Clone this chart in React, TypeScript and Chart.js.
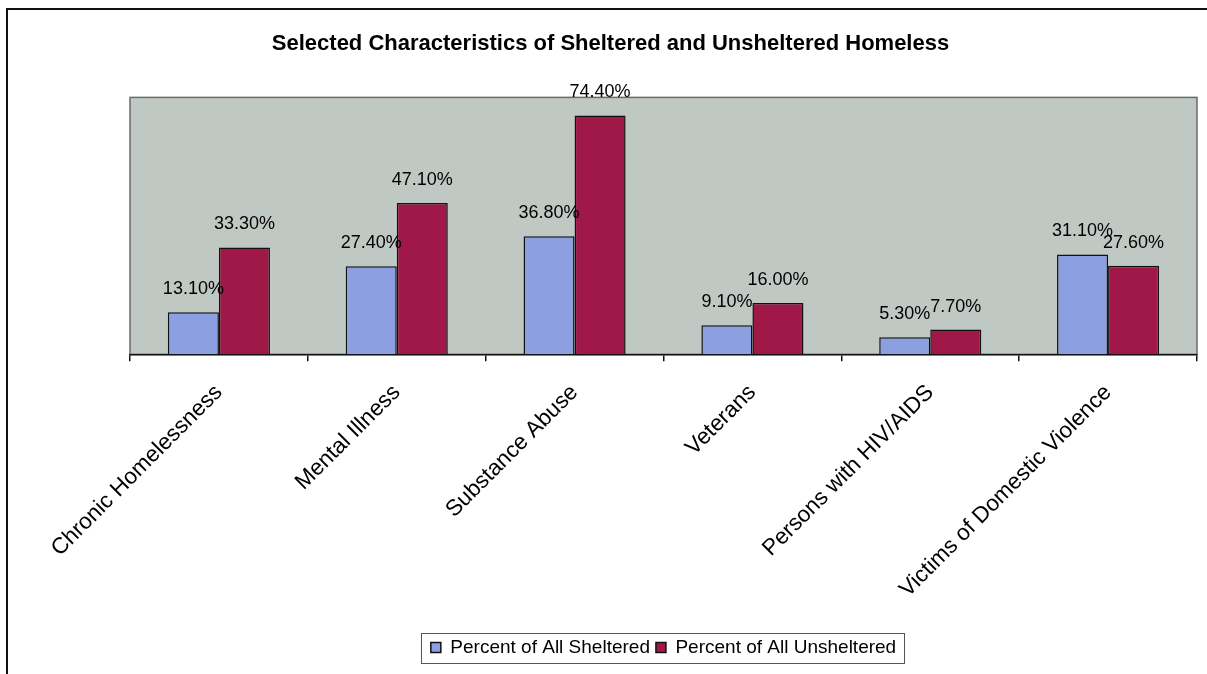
import React, { useEffect, useRef } from "react";
import { Chart, registerables } from "chart.js";

Chart.register(...registerables);

const categories = [
  "Chronic Homelessness",
  "Mental Illness",
  "Substance Abuse",
  "Veterans",
  "Persons with HIV/AIDS",
  "Victims of Domestic Violence",
];
const sheltered = [13.1, 27.4, 36.8, 9.1, 5.3, 31.1];
const unsheltered = [33.3, 47.1, 74.4, 16.0, 7.7, 27.6];
const seriesNames = ["Percent of All Sheltered", "Percent of All Unsheltered"];
const titleText = "Selected Characteristics of Sheltered and Unsheltered Homeless";

const FONT = "'Liberation Sans', Arial, Helvetica, sans-serif";

const plotBg = {
  id: "plotBg",
  beforeDraw(chart: any) {
    const { ctx, chartArea: a } = chart;
    ctx.save();
    ctx.fillStyle = "rgb(192,200,196)";
    ctx.fillRect(a.left, a.top, a.right - a.left, a.bottom - a.top);
    ctx.strokeStyle = "#6a6a6a";
    ctx.lineWidth = 1.5;
    ctx.strokeRect(a.left, a.top, a.right - a.left, a.bottom - a.top);
    ctx.restore();
  },
  afterDraw(chart: any) {
    const { ctx } = chart;
    ctx.save();
    // outer frame
    ctx.strokeStyle = "#111";
    ctx.lineWidth = 2;
    ctx.beginPath();
    ctx.moveTo(7, 674);
    ctx.lineTo(7, 9);
    ctx.lineTo(1207, 9);
    ctx.stroke();
    // legend border
    const lg = chart.legend;
    if (lg && lg.legendHitBoxes && lg.legendHitBoxes.length) {
      const hb = lg.legendHitBoxes;
      let minX = Infinity, maxX = -Infinity, minY = Infinity, maxY = -Infinity;
      hb.forEach((h: any) => {
        minX = Math.min(minX, h.left);
        maxX = Math.max(maxX, h.left + h.width);
        minY = Math.min(minY, h.top);
        maxY = Math.max(maxY, h.top + h.height);
      });
      ctx.strokeStyle = "#555";
      ctx.lineWidth = 1;
      const cy = (minY + maxY) / 2;
      ctx.strokeRect(Math.round(minX - 10) + 0.5, Math.round(cy - 15) + 0.5, Math.round(maxX - minX + 18), 30);
    }
    ctx.restore();
  },
};

const valueLabels = {
  id: "valueLabels",
  afterDatasetsDraw(chart: any) {
    const { ctx } = chart;
    ctx.save();
    ctx.font = `18px ${FONT}`;
    ctx.fillStyle = "#000";
    ctx.textAlign = "center";
    ctx.textBaseline = "middle";
    chart.data.datasets.forEach((ds: any, di: number) => {
      const meta = chart.getDatasetMeta(di);
      meta.data.forEach((bar: any, i: number) => {
        const v = ds.data[i];
        ctx.fillText(v.toFixed(2) + "%", bar.x, bar.y - 23);
      });
    });
    ctx.restore();
  },
};

export default function App() {
  const ref = useRef<HTMLCanvasElement | null>(null);
  useEffect(() => {
    document.body.style.margin = "0";
    const canvas = ref.current!;
    const chart = new Chart(canvas, {
      type: "bar",
      data: {
        labels: categories,
        datasets: [
          {
            label: seriesNames[0],
            data: sheltered,
            backgroundColor: "rgb(140,160,225)",
            borderColor: "#111",
            borderWidth: 1.5,
          },
          {
            label: seriesNames[1],
            data: unsheltered,
            backgroundColor: "rgb(160,24,72)",
            borderColor: "#111",
            borderWidth: 1.5,
          },
        ],
      },
      options: {
        responsive: false,
        animation: false,
        layout: { padding: { left: 24, right: 10, top: 0, bottom: 7 } },
        datasets: {
          bar: { categoryPercentage: 0.574, barPercentage: 1 },
        },
        plugins: {
          title: {
            display: true,
            text: titleText,
            color: "#000",
            font: { family: FONT, size: 22, weight: "bold" },
            padding: { top: 31, bottom: 40 },
          },
          legend: {
            display: true,
            position: "bottom",
            fullSize: false,
            labels: {
              color: "#000",
              font: { family: FONT, size: 19 },
              boxWidth: 10,
              boxHeight: 10,
              padding: 6,
              generateLabels: (chart: any) =>
                chart.data.datasets.map((ds: any, i: number) => ({
                  text: ds.label,
                  fillStyle: ds.backgroundColor,
                  strokeStyle: "#111",
                  lineWidth: 1.5,
                  datasetIndex: i,
                  hidden: false,
                  fontColor: "#000",
                })),
            },
          },
          tooltip: { enabled: false },
        },
        scales: {
          x: {
            grid: {
              display: true,
              drawOnChartArea: false,
              drawTicks: true,
              tickLength: 7,
              color: "#111",
              lineWidth: 1.5,
              offset: true,
            },
            border: { display: true, color: "#111", width: 1.5 },
            ticks: {
              color: "#000",
              font: { family: FONT, size: 22.5 },
              minRotation: 45,
              maxRotation: 45,
              autoSkip: false,
              padding: 18,
            },
            afterFit: (s: any) => {
              s.height = s.height + 11;
            },
          },
          y: {
            min: 0,
            max: 80,
            grid: { display: false },
            border: { display: false },
            ticks: { display: false },
            afterFit: (s: any) => {
              s.width = 106;
            },
          },
        },
      },
      plugins: [plotBg, valueLabels],
    });
    return () => chart.destroy();
  }, []);
  return (
    <canvas
      ref={ref}
      width={1207}
      height={674}
      style={{ display: "block", width: 1207, height: 674 }}
    />
  );
}
